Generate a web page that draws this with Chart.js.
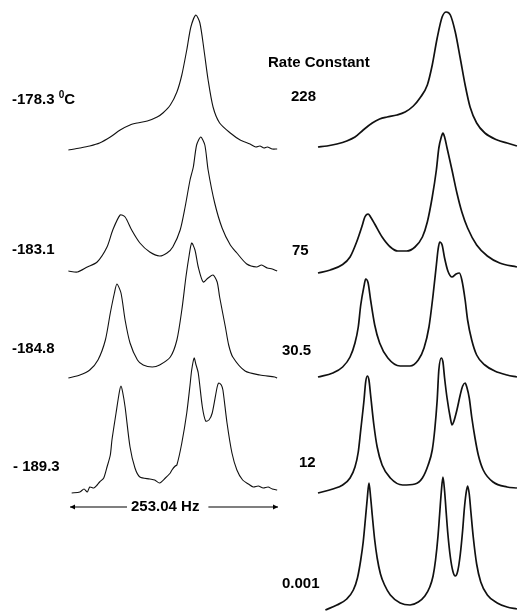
<!DOCTYPE html>
<html>
<head>
<meta charset="utf-8">
<script src="https://cdn.jsdelivr.net/npm/chart.js@4/dist/chart.umd.min.js"></script>
<style>
  html, body { margin: 0; padding: 0; background: #fff; }
  #spectra { display: block; }
</style>
</head>
<body>
<canvas id="spectra" width="518" height="611"></canvas>
<script>
// sweep width covered by each spectrum (Hz)
const spectralWidth = 253.04;

const tempLabels = ['-178.3', '-183.1', '-184.8', '- 189.3'];
const rateLabels = ['228', '75', '30.5', '12', '0.001'];

// experimental spectra, frequency (Hz) and intensity (a.u.)
const expHz1783 = [-2, 12, 24, 36, 49, 61, 73, 82, 94, 106, 113, 122, 130, 136, 142, 147, 153, 158, 163, 168, 174, 182, 195, 207, 219, 226, 231, 236, 240, 246, 252];
const expInt1783 = [0, 2, 4, 7, 13, 20, 25, 27, 29, 33, 37, 45, 58, 75, 100, 123, 135, 127, 100, 70, 43, 27, 17, 10, 6, 3, 4, 2, 3, 1, 1];

const expHz1831 = [-2, 9, 21, 33, 45, 52, 61, 67, 75, 85, 97, 109, 118, 125, 134, 140, 146, 150, 154, 159, 164, 168, 176, 185, 195, 203, 215, 227, 233, 240, 246, 252];
const expInt1831 = [0, -1, 4, 9, 24, 41, 56, 54, 41, 28, 19, 15, 18, 24, 41, 64, 91, 104, 126, 134, 126, 101, 68, 43, 26, 18, 7, 4, 6, 3, 2, 0];

const expHz1848 = [-2, 12, 24, 34, 43, 49, 54, 57, 62, 67, 73, 82, 89, 100, 109, 122, 130, 136, 141, 145, 148, 152, 156, 162, 168, 174, 179, 182, 189, 193, 198, 213, 231, 249, 252];
const expInt1848 = [-1, 2, 7, 17, 37, 64, 84, 93, 84, 57, 34, 17, 12, 10, 12, 20, 37, 67, 100, 122, 134, 127, 110, 95, 99, 102, 95, 80, 50, 32, 20, 6, 2, 0, -1];

const expHz1893 = [2, 12, 17, 21, 24, 29, 33, 36, 41, 45, 49, 51, 56, 60, 62, 64, 67, 73, 79, 85, 97, 103, 109, 116, 122, 124, 128, 130, 136, 142, 146, 148, 151, 153, 156, 161, 165, 169, 173, 179, 181, 184, 186, 191, 197, 203, 210, 217, 223, 229, 235, 241, 246, 252];
const expInt1893 = [-3, -2, 1, -2, 3, 2, 5, 8, 12, 23, 35, 50, 77, 98, 104, 98, 83, 43, 22, 13, 11, 10, 7, 12, 17, 20, 24, 25, 47, 77, 105, 120, 132, 126, 117, 83, 69, 70, 77, 103, 107, 105, 100, 67, 37, 20, 10, 6, 3, 4, 2, 3, 1, 0];

// simulated lineshapes for each rate constant
const simHz228 = [0, 11, 23, 35, 45, 55, 66, 75, 84, 96, 106, 116, 124, 133, 139, 145, 151, 156, 161, 167, 173, 179, 185, 193, 203, 218, 230, 242];
const simInt228 = [1, 2, 4, 7, 11, 18, 25, 29, 31, 33, 36, 42, 50, 63, 83, 110, 131, 136, 133, 116, 90, 63, 41, 25, 15, 8, 5, 2];

const simHz75 = [0, 15, 29, 39, 47, 54, 57, 61, 64, 69, 78, 88, 97, 108, 118, 127, 133, 139, 144, 147, 150, 152, 154, 157, 163, 169, 175, 182, 193, 206, 221, 242];
const simInt75 = [0, 3, 8, 16, 31, 48, 56, 59, 56, 49, 36, 26, 22, 22, 26, 36, 51, 76, 103, 125, 136, 140, 136, 125, 103, 80, 61, 45, 28, 17, 10, 6];

const simHz305 = [0, 18, 30, 39, 45, 49, 52, 56, 58, 61, 64, 69, 75, 85, 100, 112, 122, 129, 135, 140, 144, 146, 148, 151, 154, 158, 163, 168, 172, 175, 179, 182, 187, 193, 203, 215, 230, 242];
const simInt305 = [2, 6, 12, 22, 36, 52, 74, 93, 100, 96, 79, 54, 36, 21, 13, 13, 19, 31, 52, 84, 114, 129, 137, 134, 121, 108, 102, 105, 106, 99, 79, 59, 39, 24, 14, 8, 4, 2];

const simHz12 = [0, 18, 30, 39, 45, 49, 52, 56, 58, 60, 62, 64, 68, 72, 78, 88, 103, 118, 127, 134, 139, 142, 145, 147, 150, 152, 154, 157, 161, 163, 165, 169, 173, 176, 179, 181, 184, 187, 191, 195, 201, 213, 230, 242];
const simInt12 = [1, 5, 9, 16, 27, 42, 64, 94, 112, 118, 114, 99, 69, 47, 29, 16, 9, 10, 16, 29, 44, 64, 94, 124, 136, 132, 116, 96, 76, 69, 72, 84, 99, 108, 111, 107, 96, 77, 56, 39, 24, 12, 7, 6];

const simHz0001 = [9, 23, 35, 43, 48, 52, 55, 58, 60, 62, 64, 66, 69, 72, 76, 81, 88, 100, 112, 122, 130, 136, 140, 143, 146, 148, 150, 152, 154, 156, 158, 161, 164, 167, 170, 173, 176, 178, 180, 182, 184, 186, 189, 193, 198, 206, 218, 230, 242];
const simInt0001 = [2, 7, 13, 22, 34, 52, 70, 96, 114, 129, 115, 97, 72, 54, 38, 27, 17, 9, 7, 10, 16, 25, 36, 52, 76, 98, 120, 135, 121, 99, 78, 55, 41, 36, 41, 57, 82, 103, 118, 126, 118, 100, 74, 48, 30, 17, 9, 5, 3];

// stacking: vertical offset of each trace on the shared intensity axis
const expOffsets = [461, 340, 234, 121];
const simOffsets = [463, 338, 232, 117, -1];

const expSeries = [[expHz1783, expInt1783], [expHz1831, expInt1831], [expHz1848, expInt1848], [expHz1893, expInt1893]];
const simSeries = [[simHz228, simInt228], [simHz75, simInt75], [simHz305, simInt305], [simHz12, simInt12], [simHz0001, simInt0001]];

function makeTrace(pair, offset, axis, width, smooth) {
    const [hz, amp] = pair;
    return {
        data: hz.map((h, i) => ({ x: h, y: offset + amp[i] })),
        xAxisID: axis,
        yAxisID: 'y',
        borderColor: '#111',
        borderWidth: width,
        pointRadius: 0,
        fill: false,
        tension: smooth ? 0 : 0.25,
        cubicInterpolationMode: smooth ? 'monotone' : 'default'
    };
}

const datasets = [
    ...expSeries.map((s, i) => makeTrace(s, expOffsets[i], 'xExp', 1.1, false)),
    ...simSeries.map((s, i) => makeTrace(s, simOffsets[i], 'xSim', 1.7, true))
];

const bold = 'bold 15px "Liberation Sans", Arial, sans-serif';

const labels = {
    id: 'spectrumLabels',
    afterDatasetsDraw(chart) {
        const ctx = chart.ctx;
        ctx.save();
        ctx.fillStyle = '#000';
        ctx.strokeStyle = '#000';
        ctx.font = bold;
        ctx.textBaseline = 'middle';

        const tempY = [100, 250, 349, 467];
        const tempX = [12, 12, 12, 13];
        tempLabels.forEach((t, i) => ctx.fillText(t, tempX[i], tempY[i]));

        // degree sign on the first temperature
        let x = tempX[0] + ctx.measureText(tempLabels[0] + ' ').width;
        ctx.font = 'bold 10px "Liberation Sans", Arial, sans-serif';
        ctx.fillText('0', x, tempY[0] - 5);
        x += ctx.measureText('0').width;
        ctx.font = bold;
        ctx.fillText('C', x, tempY[0]);

        ctx.fillText('Rate Constant', 268, 63);
        const rateX = [291, 292, 282, 299, 282];
        const rateY = [97, 251, 351, 463, 584];
        rateLabels.forEach((t, i) => ctx.fillText(t, rateX[i], rateY[i]));

        // sweep-width arrow under the experimental traces
        const xs = chart.scales.xExp;
        const x0 = xs.getPixelForValue(0);
        const x1 = xs.getPixelForValue(spectralWidth);
        const ay = 507;
        const text = spectralWidth.toFixed(2) + ' Hz';
        const tx = 131;
        const tw = ctx.measureText(text).width;
        ctx.fillText(text, tx, ay);
        ctx.lineWidth = 1.2;
        ctx.beginPath();
        ctx.moveTo(x0, ay); ctx.lineTo(tx - 4, ay);
        ctx.moveTo(tx + tw + 9, ay); ctx.lineTo(x1, ay);
        ctx.stroke();
        ctx.beginPath();
        ctx.moveTo(x0, ay); ctx.lineTo(x0 + 5, ay - 2.5); ctx.lineTo(x0 + 5, ay + 2.5); ctx.closePath();
        ctx.moveTo(x1, ay); ctx.lineTo(x1 - 5, ay - 2.5); ctx.lineTo(x1 - 5, ay + 2.5); ctx.closePath();
        ctx.fill();
        ctx.restore();
    }
};

new Chart(document.getElementById('spectra'), {
    type: 'line',
    data: { datasets },
    options: {
        responsive: false,
        animation: false,
        devicePixelRatio: 1,
        layout: { padding: 0 },
        plugins: { legend: { display: false }, tooltip: { enabled: false } },
        scales: {
            xExp: { type: 'linear', display: false, min: -85.2, max: 545.0 },
            xSim: { type: 'linear', display: false, min: -386.8, max: 243.3 },
            y: { type: 'linear', display: false, min: 0, max: 611 }
        }
    },
    plugins: [labels]
});
</script>
</body>
</html>
